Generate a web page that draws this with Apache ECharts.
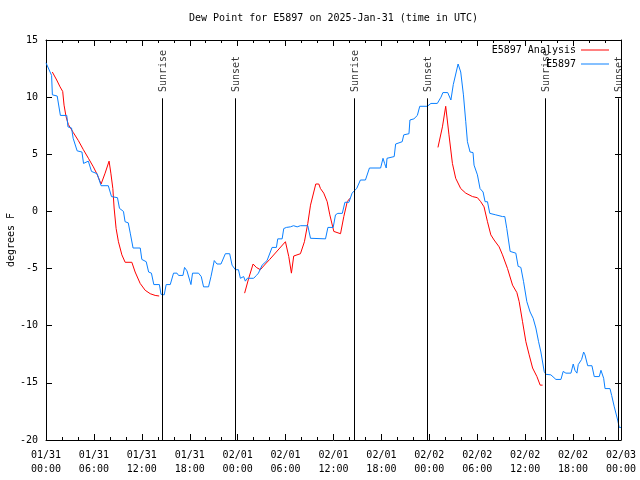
<!DOCTYPE html>
<html><head><meta charset="utf-8">
<script src="https://cdn.jsdelivr.net/npm/echarts@6/dist/echarts.min.js"></script>
<style>html,body{margin:0;padding:0;background:#fff}#c{width:640px;height:480px}</style>
</head><body><div id="c"></div>
<script>
const FONT = '"DejaVu Sans Mono", "Liberation Mono", monospace';
const titleText = 'Dew Point for E5897 on 2025-Jan-31 (time in UTC)';
const yAxisName = 'degrees F';
const seriesNames = ['E5897 Analysis', 'E5897'];
const xTickLabels = ['01/31\n00:00','01/31\n06:00','01/31\n12:00','01/31\n18:00','02/01\n00:00','02/01\n06:00','02/01\n12:00','02/01\n18:00','02/02\n00:00','02/02\n06:00','02/02\n12:00','02/02\n18:00','02/03\n00:00'];

// observed dew point (hours since 01/31 00:00 UTC, degrees F)
const obs = [[0.0,13.0],[0.7,11.9],[0.8,10.2],[1.4,10.1],[1.8,8.4],[2.6,8.4],[2.75,7.4],[3.2,7.3],[3.4,6.4],[3.9,5.3],[4.5,5.2],[4.7,4.2],[5.3,4.4],[5.7,3.5],[6.4,3.3],[6.9,2.25],[7.8,2.25],[8.2,1.3],[8.95,1.2],[9.2,0.27],[9.7,0.0],[9.9,-0.9],[10.3,-1.0],[10.55,-1.9],[10.9,-3.2],[11.8,-3.2],[12.0,-4.2],[12.55,-4.4],[12.85,-5.3],[13.2,-5.4],[13.5,-6.4],[14.2,-6.4],[14.4,-7.25],[14.8,-7.3],[15.05,-6.4],[15.56,-6.4],[15.97,-5.4],[16.4,-5.4],[16.6,-5.6],[17.15,-5.6],[17.35,-4.9],[17.65,-5.2],[18.15,-6.4],[18.35,-5.4],[19.1,-5.4],[19.44,-5.7],[19.73,-6.6],[20.35,-6.6],[20.66,-5.7],[20.91,-5.7],[21.07,-4.3],[21.41,-4.6],[21.91,-4.6],[22.46,-3.7],[23.0,-3.7],[23.3,-4.7],[23.71,-5.1],[24.1,-5.1],[24.34,-5.85],[24.75,-5.7],[24.96,-6.1],[25.2,-5.85],[26.0,-5.85],[26.35,-5.6],[26.6,-5.4],[27.06,-4.7],[27.68,-4.3],[27.88,-4.4],[28.31,-3.15],[28.85,-3.15],[29.02,-2.4],[29.57,-2.4],[29.77,-1.5],[30.1,-1.4],[30.6,-1.35],[31.0,-1.25],[31.45,-1.35],[31.86,-1.25],[32.78,-1.25],[33.12,-2.35],[35.0,-2.4],[35.3,-1.4],[35.96,-1.4],[36.25,-0.3],[36.54,-0.17],[37.1,-0.17],[37.43,0.8],[37.93,0.8],[38.33,1.6],[38.6,1.8],[38.9,2.0],[39.37,2.75],[40.0,2.75],[40.5,3.8],[41.9,3.8],[42.2,4.65],[42.4,4.2],[42.6,3.8],[42.7,4.65],[42.9,4.8],[43.6,4.8],[43.78,5.9],[44.2,6.0],[44.6,6.1],[44.8,6.7],[45.45,6.8],[45.57,8.0],[46.07,8.1],[46.5,8.4],[46.8,9.2],[47.75,9.2],[48.2,9.45],[49.0,9.45],[49.46,10.0],[49.7,10.4],[50.3,10.4],[50.7,9.75],[51.0,11.1],[51.6,12.9],[51.93,12.2],[52.27,10.2],[52.56,7.85],[52.77,6.1],[53.1,5.2],[53.47,5.15],[53.6,4.05],[54.02,3.2],[54.35,2.0],[54.73,1.7],[54.98,0.85],[55.28,0.85],[55.57,-0.17],[56.32,-0.3],[57.16,-0.45],[57.45,-0.45],[57.7,-1.5],[58.12,-3.5],[58.83,-3.65],[59.12,-4.8],[59.46,-4.9],[59.8,-6.15],[60.21,-7.9],[60.62,-8.8],[61.0,-9.35],[61.34,-10.2],[61.68,-11.4],[61.97,-12.3],[62.38,-14.0],[62.59,-14.25],[63.22,-14.3],[63.85,-14.7],[64.48,-14.7],[64.76,-14.0],[65.1,-14.15],[65.73,-14.15],[66.02,-13.35],[66.23,-13.9],[66.48,-14.15],[66.65,-13.4],[66.86,-13.55],[67.07,-12.95],[67.32,-12.3],[67.49,-12.55],[67.83,-13.5],[68.36,-13.5],[68.65,-14.45],[69.28,-14.45],[69.49,-13.9],[69.83,-14.6],[70.0,-15.5],[70.62,-15.5],[70.83,-16.1],[71.16,-17.1],[71.58,-18.25],[71.78,-18.9],[72.0,-18.9]];

// analysis segments
const ana1 = [[0.79,12.2],[1.34,11.5],[1.76,10.9],[2.09,10.5],[2.26,9.3],[2.51,8.3],[2.8,7.6],[3.42,6.9],[4.05,6.2],[4.68,5.4],[5.31,4.65],[5.93,3.9],[6.36,3.3],[6.9,2.4],[7.4,3.35],[7.9,4.4],[8.12,3.35],[8.37,2.0],[8.53,0.3],[8.78,-1.5],[9.07,-2.65],[9.5,-3.8],[9.91,-4.45],[10.75,-4.45],[11.16,-5.3],[11.79,-6.3],[12.42,-6.9],[13.05,-7.2],[13.67,-7.35],[14.17,-7.4]];
const ana2 = [[24.87,-7.15],[25.38,-5.85],[25.93,-4.6],[26.34,-4.9],[26.84,-5.1],[27.47,-4.6],[28.01,-4.2],[29.98,-2.65],[30.4,-3.95],[30.73,-5.4],[31.02,-3.9],[31.86,-3.7],[32.36,-2.65],[32.78,-1.05],[33.12,0.55],[33.78,2.4],[34.16,2.4],[34.37,2.0],[34.78,1.6],[35.21,0.85],[35.54,-0.3],[36.04,-1.75],[36.88,-1.95],[37.29,-0.45],[37.72,0.85],[38.05,1.15]];
const ana3 = [[49.08,5.6],[49.64,7.4],[50.05,9.2],[50.46,6.7],[50.89,4.2],[51.3,2.9],[51.93,2.0],[52.56,1.6],[53.4,1.3],[54.02,1.2],[54.44,0.85],[54.85,0.4],[55.28,-0.9],[55.7,-2.05],[56.11,-2.5],[56.74,-3.1],[57.16,-3.8],[57.79,-5.0],[58.42,-6.45],[58.96,-7.1],[59.25,-7.9],[59.67,-9.65],[60.09,-11.4],[60.5,-12.55],[60.93,-13.7],[61.47,-14.45],[61.88,-15.2],[62.18,-15.2]];

// sunrise / sunset markers
const eventHours = [14.56, 23.70, 38.60, 47.75, 62.57, 71.66];
const eventNames = ['Sunrise', 'Sunset', 'Sunrise', 'Sunset', 'Sunrise', 'Sunset'];
const eventLineTop = 9.9;
const eventLabelBase = 10.45;

const anaData = ana1.concat([[19, '-']], ana2, [[43, '-']], ana3);

const black = '#000';
function xAxisDef(pos, showLabel) {
  return {
    type: 'value', min: 0, max: 72, interval: 6, position: pos,
    axisLine: { show: true, onZero: false, lineStyle: { color: black, width: 1 } },
    axisTick: { show: true, inside: true, length: 6, lineStyle: { color: black } },
    minorTick: { show: true, splitNumber: 3, length: 3, lineStyle: { color: black } },
    splitLine: { show: false }, minorSplitLine: { show: false },
    axisLabel: { show: showLabel, formatter: v => xTickLabels[Math.round(v / 6)] || '', color: black, fontSize: 10, fontFamily: FONT, lineHeight: 14, margin: 8 }
  };
}
function yAxisDef(pos, showLabel) {
  const a = {
    type: 'value', min: -20, max: 15, interval: 5, position: pos,
    axisLine: { show: true, onZero: false, lineStyle: { color: black, width: 1 } },
    axisTick: { show: true, inside: true, length: 6, lineStyle: { color: black } },
    splitLine: { show: false },
    axisLabel: { show: showLabel, color: black, fontSize: 10, fontFamily: FONT, margin: 8 }
  };
  if (showLabel) {
    a.name = yAxisName; a.nameLocation = 'middle'; a.nameGap = 30; a.nameMoveOverlap = false;
    a.nameTextStyle = { color: black, fontSize: 10, fontFamily: FONT };
  }
  return a;
}

const chart = echarts.init(document.getElementById('c'), null, { renderer: 'canvas' });
chart.setOption({
  animation: false,
  backgroundColor: '#fff',
  textStyle: { fontFamily: FONT },
  title: { text: titleText, left: 189, top: 13, padding: 0,
    textStyle: { fontSize: 10, fontWeight: 'normal', color: black, fontFamily: FONT } },
  legend: { data: seriesNames, orient: 'vertical', right: 31, top: 44, padding: 0, align: 'right',
    icon: 'rect', itemWidth: 28, itemHeight: 1, itemGap: 2,
    textStyle: { fontSize: 10, color: black, fontFamily: FONT, lineHeight: 12 } },
  grid: { left: 46, right: 19, top: 40, bottom: 40, containLabel: false, outerBoundsMode: 'none' },
  xAxis: [xAxisDef('bottom', true), xAxisDef('top', false)],
  yAxis: [yAxisDef('left', true), yAxisDef('right', false)],
  series: [
    { name: seriesNames[0], type: 'line', xAxisIndex: 0, yAxisIndex: 0, data: anaData, symbol: 'none',
      connectNulls: false, lineStyle: { color: '#ff0000', width: 1 }, itemStyle: { color: '#ff0000' }, z: 3 },
    { name: seriesNames[1], type: 'line', xAxisIndex: 0, yAxisIndex: 0, data: obs, symbol: 'none',
      lineStyle: { color: '#0a80ff', width: 1 }, itemStyle: { color: '#0a80ff' }, z: 4 },
    { name: 'events', type: 'scatter', xAxisIndex: 0, yAxisIndex: 0, silent: true, z: 5,
      data: eventHours.map((h, i) => ({ value: [h, eventLabelBase], name: eventNames[i] })),
      symbolSize: 0.01, itemStyle: { color: 'rgba(0,0,0,0)' },
      label: { show: true, position: 'inside', rotate: 90, align: 'left', verticalAlign: 'middle',
        offset: [0, 1], formatter: p => p.name, color: black, fontSize: 10, fontFamily: FONT },
      markLine: { silent: true, symbol: 'none', animation: false,
        lineStyle: { color: black, width: 1, type: 'solid' }, label: { show: false },
        data: eventHours.map(h => [{ coord: [h, -20] }, { coord: [h, eventLineTop] }]) } }
  ]
});
</script></body></html>
